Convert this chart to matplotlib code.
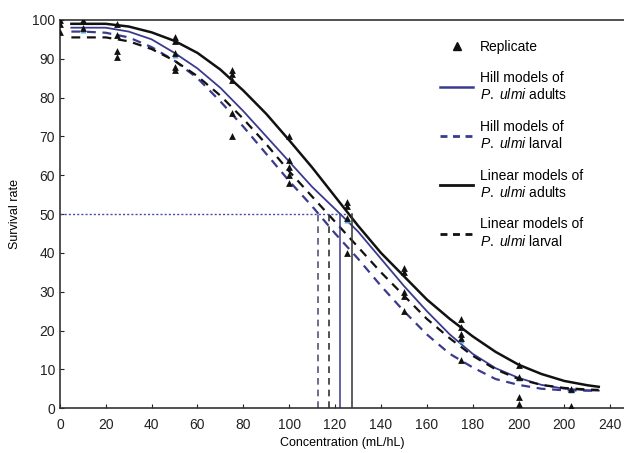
import matplotlib.pyplot as plt
from matplotlib.lines import Line2D

plt.rcParams['font.family'] = ['Liberation Sans', 'DejaVu Sans']
plt.rcParams['mathtext.fontset'] = 'custom'
plt.rcParams['mathtext.rm'] = 'Liberation Sans'
plt.rcParams['mathtext.it'] = 'Liberation Sans:italic'

# replicate observations (concentration, survival)
rep_x = [0, 0, 0, 10, 10, 25, 25, 25, 25, 50, 50, 50, 50, 50,
         75, 75, 75, 75, 75, 100, 100, 100, 100, 100, 125, 125, 125, 125,
         150, 150, 150, 150, 150, 175, 175, 175, 175, 175,
         200, 200, 200, 200, 223, 223, 223]
rep_y = [100, 99, 97, 100, 98, 99, 96, 92, 90.5, 95.5, 94.5, 91.5, 88, 87,
         87, 86, 84.5, 76, 70, 70, 64, 62, 60, 58, 53, 52, 49, 40,
         36, 35, 30, 29, 25, 23, 21, 19, 18, 12.5,
         11, 8, 3, 1, 5, 0.5, 0]

# mean points shown in light blue
mean_x = [10, 50, 125, 175, 200, 223]
mean_y = [97.5, 91, 48.5, 17.5, 7.7, 4.6]

# fitted curves
conc = [5, 10, 20, 30, 40, 50, 60, 70, 80, 90, 100, 110, 120, 130,
        140, 150, 160, 170, 180, 190, 200, 210, 220, 230, 235]
lin_adult = [99, 99, 99, 98.3, 96.8, 94.6, 91.5, 87.2, 81.8, 75.8, 69, 62,
             54.5, 47, 40, 34, 28, 23, 18.5, 14.5, 11.2, 8.8, 7, 5.9, 5.5]
hill_adult = [98, 98, 98, 97, 95, 91.5, 87.5, 82.5, 76.5, 70, 63.5, 57,
              51.3, 45.5, 38.5, 31.5, 25, 19, 14, 10.3, 7.8, 6, 5, 4.6, 4.5]
hill_larva = [97, 97, 96.7, 95.5, 93, 89.5, 85, 79, 72.5, 65.5, 58.5, 52,
              45, 38.5, 31.5, 25, 19, 14, 10.5, 7.5, 6, 5, 4.6, 4.5, 4.5]
lin_larva = [95.5, 95.5, 95.5, 94.5, 92.5, 89.5, 85.5, 80.5, 74.5, 68, 61,
             54.5, 48, 41.5, 35, 29, 23, 18, 13.5, 10, 7.5, 6, 5.2, 4.8, 4.7]

# LC50 values where each curve crosses 50 %
lc50 = [112.5, 117.4, 122.2, 127.5]

xticks = [0, 20, 40, 60, 80, 100, 120, 140, 160, 180, 200, 220, 240]
xticklabels = ['0', '20', '40', '60', '80', '100', '120', '140', '160',
               '180', '200', '200', '240']

purple = '#3a3a8e'
black = '#111111'

fig = plt.figure(figsize=(6.24, 4.53), dpi=100)
ax = fig.add_axes([0.096, 0.099, 0.904, 0.857])

ax.plot(conc, lin_adult, color=black, lw=1.8)
ax.plot(conc, hill_adult, color=purple, lw=1.3)
ax.plot(conc, hill_larva, color=purple, lw=1.6, dashes=(4, 3))
ax.plot(conc, lin_larva, color=black, lw=1.6, dashes=(4, 3))

ax.plot([0, 125], [50, 50], color='#4a4ab0', lw=1.0, ls=(0, (1.5, 1.5)))
ax.plot([lc50[0], lc50[0]], [0, 50], color='#555577', lw=1.2, dashes=(4, 3))
ax.plot([lc50[1], lc50[1]], [0, 50], color='#333333', lw=1.2, dashes=(4, 3))
ax.plot([lc50[2], lc50[2]], [0, 50], color=purple, lw=1.1)
ax.plot([lc50[3], lc50[3]], [0, 50], color='#333333', lw=1.1)

ax.scatter(rep_x, rep_y, marker='^', s=24, color=black, zorder=5, linewidths=0)
ax.scatter(mean_x, mean_y, marker='^', s=18, color='#4fa3c8', zorder=4, linewidths=0)

ax.set_xlim(0, 246)
ax.set_ylim(0, 100)
ax.set_xticks(xticks)
ax.set_xticklabels(xticklabels)
ax.set_yticks(range(0, 101, 10))
ax.tick_params(direction='in', length=3, labelsize=10, colors='#222222')
ax.tick_params(axis='x', pad=7)
ax.spines['right'].set_visible(False)
for s in ['top', 'left', 'bottom']:
    ax.spines[s].set_color('#333333')
    ax.spines[s].set_linewidth(1.2)

ax.set_xlabel('Concentration (mL/hL)', fontsize=9, labelpad=4)
ax.set_ylabel('Survival rate', fontsize=9, labelpad=8)

handles = [
    Line2D([], [], ls='none', marker='^', color=black, markersize=6),
    Line2D([], [], color=purple, lw=1.8),
    Line2D([], [], color=purple, lw=2.0, dashes=(2.5, 2)),
    Line2D([], [], color=black, lw=2.0),
    Line2D([], [], color=black, lw=2.0, dashes=(2.5, 2)),
]
labels = [
    'Replicate',
    'Hill models of\n$\\mathit{P.}$ $\\mathit{ulmi}$ adults',
    'Hill models of\n$\\mathit{P.}$ $\\mathit{ulmi}$ larval',
    'Linear models of\n$\\mathit{P.}$ $\\mathit{ulmi}$ adults',
    'Linear models of\n$\\mathit{P.}$ $\\mathit{ulmi}$ larval',
]
fig.legend(handles, labels, loc='upper left', bbox_to_anchor=(0.685, 0.94),
           frameon=False, fontsize=10, handlelength=2.4, handletextpad=0.5,
           labelspacing=1.25)

fig.savefig('out.png', dpi=100)
